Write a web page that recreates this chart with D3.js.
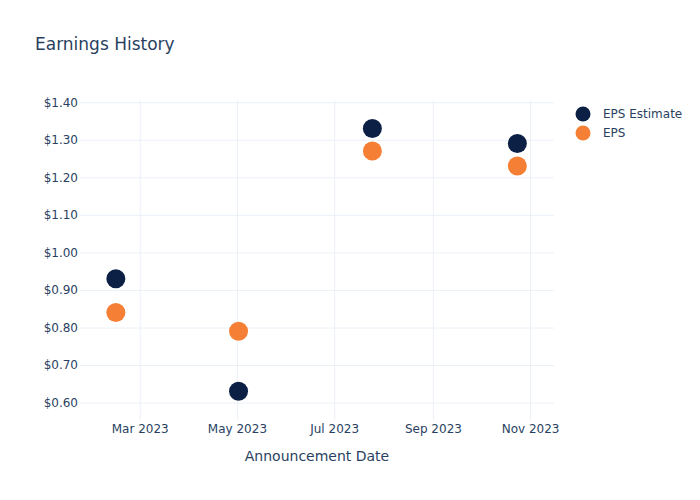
<!DOCTYPE html>
<html><head><meta charset="utf-8">
<script src="https://cdn.jsdelivr.net/npm/d3@7"></script>
<style>body{margin:0;background:#fff}svg,svg text{font-family:"DejaVu Sans",sans-serif}</style>
</head><body><div id="chart"></div>
<script>
const dates = ["2023-02-14","2023-05-02","2023-07-25","2023-10-24"];
const epsEstimate = [0.93, 0.63, 1.33, 1.29];
const eps = [0.84, 0.79, 1.27, 1.23];
const xTicks = ["2023-03-01","2023-05-01","2023-07-01","2023-09-01","2023-11-01"];
const yTicks = [0.6,0.7,0.8,0.9,1.0,1.1,1.2,1.3,1.4];
const seriesNames = ["EPS Estimate","EPS"];
const colors = ["#0c1f44","#f58035"];

const W=700,H=500,m={l:80,r:146,t:100,b:80};
const svg=d3.select("#chart").append("svg").attr("width",W).attr("height",H);
const x=d3.scaleUtc().domain([new Date(Date.UTC(2023,0,22,12)),new Date(Date.UTC(2023,10,16))]).range([m.l,W-m.r]);
const y=d3.scaleLinear().domain([0.6,1.4]).range([402.6,102.2]);
const txt="#2a3f5f", grid="#ebf0f8";
const pd=d3.utcParse("%Y-%m-%d");

const gx=svg.append("g").attr("transform",`translate(0,${H-m.b})`)
 .call(d3.axisBottom(x).tickValues(xTicks.map(pd)).tickFormat(d3.utcFormat("%b %Y")).tickSize(-(H-m.t-m.b)).tickPadding(4));
gx.attr("font-family",null);
gx.select(".domain").remove();
gx.selectAll("line").attr("stroke",grid);
gx.selectAll("text").attr("fill",txt).attr("font-size",12);

const gy=svg.append("g").attr("transform",`translate(${m.l},0)`)
 .call(d3.axisLeft(y).tickValues(yTicks).tickFormat(d=>"$"+d.toFixed(2)).tickSize(-(W-m.l-m.r)).tickPadding(2));
gy.attr("font-family",null);
gy.select(".domain").remove();
gy.selectAll("line").attr("stroke",grid);
gy.selectAll("text").attr("fill",txt).attr("font-size",12);

[epsEstimate,eps].forEach((vals,i)=>{
 svg.append("g").selectAll("circle").data(vals).join("circle")
  .attr("cx",(d,j)=>x(pd(dates[j]))).attr("cy",d=>y(d)).attr("r",9.5).attr("fill",colors[i]);
});

svg.append("text").attr("x",35).attr("y",50).attr("font-size",17).attr("fill",txt).text("Earnings History");
svg.append("text").attr("x",m.l+(W-m.l-m.r)/2).attr("y",461).attr("text-anchor","middle").attr("font-size",14).attr("fill",txt).text("Announcement Date");

const lg=svg.append("g");
seriesNames.forEach((n,i)=>{
 lg.append("circle").attr("cx",583).attr("cy",114+i*19).attr("r",7.5).attr("fill",colors[i]);
 lg.append("text").attr("x",603).attr("y",118+i*19).attr("font-size",12).attr("fill",txt).text(n);
});
</script></body></html>
